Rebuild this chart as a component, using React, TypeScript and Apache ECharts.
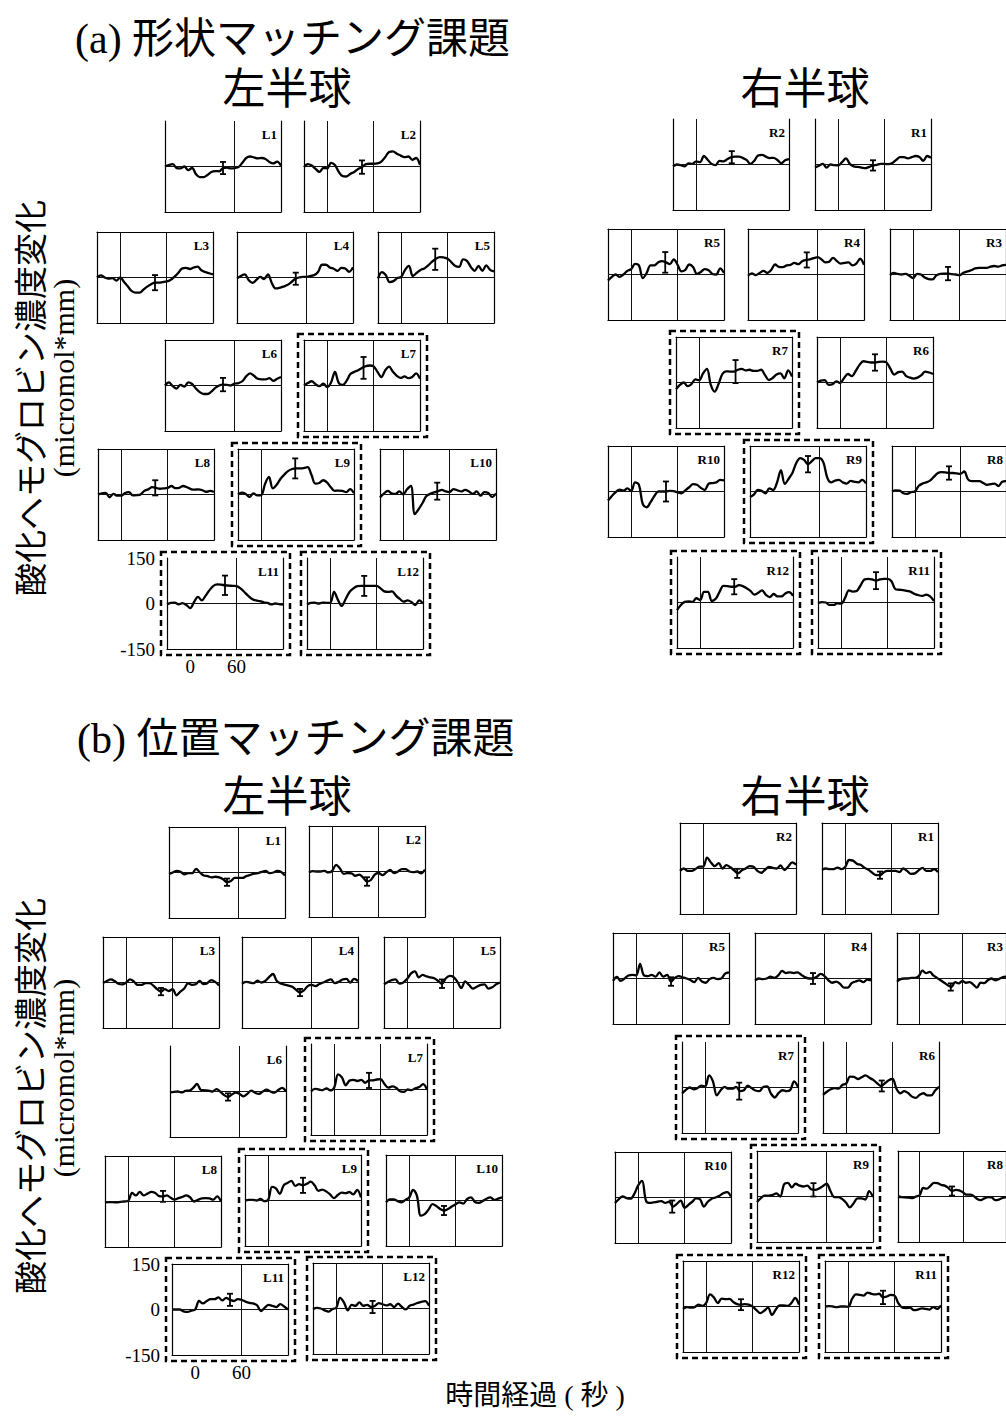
import React, { useEffect, useRef } from "react";
import * as echarts from "echarts";

// ---------- DATA ----------
const times = [-30, -25, -20, -15, -10, -5, 0, 5, 10, 15, 20, 25, 30, 35, 40, 45, 50, 55, 60, 65, 70, 75, 80, 85, 90, 95, 100, 105, 110, 115, 120];

const leftLabels = ["L1", "L2", "L3", "L4", "L5", "L6", "L7", "L8", "L9", "L10", "L11", "L12"];
const rightLabels = ["R1", "R2", "R3", "R4", "R5", "R6", "R7", "R8", "R9", "R10", "R11", "R12"];

const yTicks = [-150, 0, 150];
const xTickLabels = [0, 60];

// (a) shape matching task, left hemisphere
const shapeL1 = [0, 5, 8, -5, -6, 0, -12, -5, -25, -35, -35, -28, -18, -15, -16, -5, -4, -6, -5, -2, 12, 28, 33, 30, 27, 28, 25, 15, 10, 16, 3];
const shapeL2 = [-2, 8, 3, -8, -18, -5, -6, 12, 5, -18, -32, -33, -24, -18, -8, -2, 8, 9, 9, 10, 16, 31, 48, 50, 42, 36, 31, 33, 22, 28, 5];
const shapeL3 = [0, 7, 0, -4, -2, -10, 0, -15, -30, -45, -50, -50, -40, -30, -22, -17, -17, -15, -13, -8, 2, 15, 30, 32, 28, 33, 36, 24, 18, 14, 10];
const shapeL4 = [-3, 5, 10, -8, -18, -8, 2, -5, 10, -18, -36, -34, -30, -25, -16, -5, 0, 2, 2, 5, 8, 19, 42, 42, 33, 29, 22, 32, 30, 19, 34];
const shapeL5 = [-3, 18, 8, -15, -12, -2, 2, 25, 38, 5, 15, 25, 30, 40, 52, 62, 67, 66, 62, 50, 38, 35, 60, 55, 35, 22, 38, 22, 40, 25, 20];
const shapeL6 = [0, 10, -2, -10, 2, -4, 10, 5, -10, -22, -28, -28, -20, -8, 0, 3, 2, 0, 6, 8, 14, 30, 40, 32, 22, 20, 20, 24, 15, 22, 28];
const shapeL7 = [0, 8, 14, 4, -2, 6, -5, 10, 45, 8, 2, 15, 38, 45, 50, 58, 64, 66, 63, 45, 28, 50, 62, 45, 32, 25, 30, 24, 28, 40, 22];
const shapeL8 = [0, 4, 5, -9, 2, -4, -4, 5, 8, -3, -2, 0, 12, 17, 24, 22, 19, 20, 22, 28, 21, 22, 28, 24, 18, 16, 17, 14, 9, 12, 8];
const shapeL9 = [0, 6, 2, -8, 4, -3, -2, 35, 58, 20, 32, 52, 66, 78, 84, 86, 86, 87, 90, 65, 36, 38, 47, 40, 24, 12, 13, 12, 8, 18, 4];
const shapeL10 = [-10, 3, 12, 4, 2, 10, 0, 17, 28, -65, -48, -28, -5, 2, 7, 11, 15, 10, 8, 18, 14, 10, 15, 10, 2, 10, -4, 8, 5, -8, 4];
const shapeL11 = [-3, 2, 3, -3, 1, -5, -15, 5, 22, 10, 26, 44, 58, 63, 62, 60, 59, 58, 57, 50, 38, 25, 15, 10, 8, 4, 2, -3, 0, -2, -4];
const shapeL12 = [-3, 2, 3, 0, 3, 2, 2, 38, 12, -8, 15, 38, 50, 57, 58, 58, 58, 58, 58, 50, 40, 38, 40, 26, 15, 6, 10, 5, -5, 10, 0];

// (a) shape matching task, right hemisphere
const shapeR1 = [-10, -4, 2, -10, 0, -2, -3, 8, 20, 2, -6, -8, -10, -12, -8, -3, -1, 2, 2, 1, 5, 15, 24, 24, 20, 24, 28, 25, 12, 28, 22];
const shapeR2 = [-6, 0, -2, -6, 4, 2, 10, 8, 28, 15, 2, -2, 12, 10, 17, 24, 26, 26, 22, 15, 2, 12, 30, 32, 26, 21, 22, 15, 4, 14, 18];
const shapeR3 = [-2, 5, 2, 0, 2, -4, -12, 2, 0, -10, -15, -16, -3, 2, 3, 3, 1, 0, -2, 6, 10, 14, 20, 22, 22, 22, 26, 28, 26, 30, 32];
const shapeR4 = [-4, 4, -2, 5, 12, 5, 15, 33, 25, 24, 30, 32, 38, 34, 44, 48, 50, 54, 57, 50, 40, 42, 55, 44, 36, 38, 40, 30, 36, 52, 32];
const shapeR5 = [-20, -8, 0, -8, 0, 12, 18, 35, 30, -12, 5, 30, 30, 40, 44, 40, 34, 50, 32, 10, 15, 33, 25, 2, 8, 18, 14, 2, 0, 20, 5];
const shapeR6 = [0, 6, 8, -8, -6, 4, -2, 15, 28, 21, 38, 58, 70, 68, 66, 66, 68, 69, 66, 45, 26, 34, 36, 22, 16, 13, 16, 24, 36, 33, 28];
const shapeR7 = [-22, -8, 0, -12, -5, 10, 8, 30, 45, -8, -30, -5, 28, 37, 36, 36, 42, 45, 40, 42, 38, 38, 42, 25, 8, 15, 26, 30, 14, 40, 20];
const shapeR8 = [0, 4, 3, -6, -8, -2, 0, 18, 26, 30, 36, 48, 60, 64, 63, 61, 61, 60, 58, 66, 40, 34, 34, 34, 28, 22, 24, 26, 18, 32, 34];
const shapeR9 = [-18, -10, 5, 2, -6, 10, 5, 30, 70, 25, 42, 62, 95, 110, 104, 90, 100, 110, 110, 95, 45, 30, 36, 38, 30, 26, 35, 32, 30, 38, 27];
const shapeR10 = [-30, -15, -2, 6, 3, 10, 2, 30, 22, -42, -52, -35, -15, 0, 0, 0, 2, 1, -3, -6, 4, 14, 24, 22, 12, 5, 25, 28, 30, 38, 37];
const shapeR11 = [-2, 1, 0, -8, -8, -3, -4, 15, 40, 36, 38, 56, 76, 78, 76, 72, 76, 78, 78, 70, 44, 42, 41, 38, 35, 28, 24, 22, 26, 20, 5];
const shapeR12 = [-25, -8, 2, 4, 2, 14, 8, 35, 35, 5, 12, 35, 55, 54, 52, 52, 57, 54, 47, 38, 26, 32, 40, 25, 18, 28, 20, 20, 30, 34, 22];

// (b) position matching task, left hemisphere
const posL1 = [-5, 0, 5, 2, -6, -2, -2, 12, 0, -10, -12, -16, -14, -16, -22, -32, -28, -18, -18, -18, -12, -8, -4, -2, 2, 5, -2, 0, 5, 2, -10];
const posL2 = [-3, 1, 0, 0, 2, -3, 2, 22, 10, -8, -5, -6, -14, -10, -20, -33, -28, -10, -5, -12, -3, 5, -5, 0, 8, 8, 0, -2, 0, -6, 6];
const posL3 = [-2, 5, 10, 5, -4, -6, 0, 10, 3, -8, -8, -2, -2, -10, -22, -30, -22, -28, -22, -42, -30, -20, -3, -8, -6, 5, -5, -2, 8, 2, -10];
const posL4 = [-4, 2, 0, -2, 6, 0, 5, 18, 28, 5, -3, -7, -10, -14, -24, -33, -26, -12, -8, -12, -5, 0, 6, 10, -2, 2, 10, 12, 0, 12, 5];
const posL5 = [-6, 2, 8, 10, -4, 0, 12, 30, 37, 17, 25, 20, 17, 14, 5, -4, 14, 22, 18, 2, -18, 4, -8, -20, -14, -8, -6, -20, -16, -6, 0];
const posL6 = [-3, -1, 0, -3, 2, 3, 12, 25, 5, 4, 3, 0, 8, 0, -12, -18, -10, -4, -8, -16, -8, 3, -4, -8, 0, 6, 0, -4, 5, 12, 0];
const posL7 = [-6, 2, 0, -2, 4, -3, 6, 50, 40, 14, 30, 32, 28, 32, 22, 30, 30, 33, 34, 18, 6, 10, 6, -6, -8, 0, -2, 4, 8, 18, 0];
const posL8 = [-3, -2, -2, -3, -1, 0, 2, 28, 20, 32, 20, 26, 32, 28, 18, 17, 20, 12, 6, 11, 15, 20, 14, 0, 5, 10, 11, 10, 6, 17, 0];
const posL9 = [0, 2, 2, 0, 5, -2, 2, 45, 40, 22, 50, 58, 65, 48, 54, 50, 55, 62, 50, 32, 36, 30, 20, 8, 18, 26, 24, 28, 20, 35, 10];
const posL10 = [-6, 4, 4, -2, -6, 2, 10, 35, 15, -50, -45, -30, -12, -18, -28, -33, -28, -20, -12, -6, -10, 5, 10, -5, -8, -2, 6, 10, 2, 6, 10];
const posL11 = [0, 0, 0, -6, -8, -4, 0, 28, 20, 28, 34, 34, 40, 30, 38, 32, 28, 34, 32, 26, 22, 20, 14, -5, 6, 15, 12, 8, 18, 10, 0];
const posL12 = [-2, 2, 0, -6, -10, -2, 2, 35, 20, -6, 12, 9, 20, 9, 12, 5, 8, 18, 14, 10, 14, 5, 16, 5, -3, 9, 13, 18, 22, 24, 9];

// (b) position matching task, right hemisphere
const posR1 = [-4, 0, -2, -2, 3, -2, 5, 28, 26, 16, 12, 2, -4, -14, -22, -22, -12, -8, -8, -8, -12, 0, -8, -18, -16, -6, 2, -8, -8, -2, -12];
const posR2 = [-8, 0, -8, -8, -2, 6, 6, 36, 20, 8, 18, 0, 11, 4, -6, -16, -6, 0, 8, 6, -8, -14, -4, 5, 2, 0, 10, -5, 6, 20, 13];
const posR3 = [-10, -2, 0, 0, 2, 2, 8, 26, 18, 22, 10, 2, -6, -14, -22, -28, -12, -16, -8, -14, -12, -20, -30, -14, -15, -6, 0, -6, -2, 4, 6];
const posR4 = [-6, 0, -2, 0, 6, 2, 10, 25, 18, 20, 18, 20, 12, 4, 0, 0, 6, 15, 8, -6, -14, -10, -18, -30, -30, -15, -10, -6, -12, -4, -6];
const posR5 = [-8, 5, -8, 0, 10, 12, 10, 48, 10, 8, 12, 6, 20, 6, 12, -10, 2, 8, 4, 0, -5, -12, 2, -10, -14, -2, 2, -2, 0, 16, 20];
const posR6 = [-24, -14, -6, -2, -4, 8, 13, 36, 35, 28, 34, 40, 32, 25, 14, 5, 14, 24, 28, -4, -19, -12, -18, -30, -34, -24, -19, -26, -26, -10, 2];
const posR7 = [-20, -8, 0, -6, -2, 6, 4, 40, 20, -26, -9, 2, -4, -4, 2, -12, -9, 6, -2, -10, -12, 2, 4, -20, -33, -18, -9, -12, -8, 20, 2];
const posR8 = [0, -2, -3, -4, -5, 0, 4, 28, 26, 35, 45, 44, 38, 36, 28, 18, 22, 20, 14, 6, 6, 2, -8, -12, -6, -2, -3, -12, -10, -5, -2];
const posR9 = [-18, -5, 3, 3, 5, 10, 0, 40, 45, 30, 42, 36, 33, 36, 24, 22, 26, 34, 42, 18, -2, -2, -8, -20, -36, -22, -6, -6, -10, 18, -2];
const posR10 = [-18, -5, 4, -2, -4, 12, 40, 55, -10, -18, -16, -14, -12, -18, -14, -30, -21, -10, -34, -24, -14, -3, -6, -30, -14, -4, 0, 6, 14, 18, 3];
const posR11 = [0, 1, 0, -2, 0, 0, -1, 25, 40, 38, 36, 46, 42, 40, 42, 30, 33, 38, 36, 10, -4, -5, -4, -12, -10, -6, -8, -10, -2, -8, 4];
const posR12 = [-8, -2, -4, -2, 6, 2, 12, 40, 30, 11, 26, 24, 25, 15, 8, 6, 8, 6, 0, -12, -22, -14, -4, -28, -10, 4, 4, 2, 11, 28, 6];

// error bars: [time, centre, half-width], in label order 1..12
const shapeLeftErr = [[45, -5, 20], [45, -2, 22], [45, -17, 25], [46, -4, 20], [44, 60, 35], [45, 3, 22], [47, 58, 36], [44, 22, 25], [44, 86, 33], [44, 11, 28], [45, 60, 32], [44, 58, 33]];
const shapeRightErr = [[45, -3, 17], [46, 24, 20], [45, 3, 22], [46, 48, 25], [44, 40, 34], [45, 66, 27], [47, 36, 38], [45, 61, 22], [45, 90, 27], [45, 0, 33], [45, 72, 28], [44, 52, 25]];
const posLeftErr = [[45, -32, 12], [45, -33, 14], [45, -30, 12], [45, -33, 12], [45, -4, 14], [45, -18, 12], [45, 30, 25], [45, 17, 18], [45, 50, 25], [45, -33, 15], [45, 32, 20], [47, 5, 20]];
const posRightErr = [[45, -22, 12], [44, -16, 15], [44, -28, 12], [45, 0, 18], [45, -10, 14], [46, 5, 18], [44, -12, 28], [45, 18, 15], [43, 22, 22], [44, -30, 20], [45, 30, 22], [45, 6, 18]];

// reference lines at stimulus onset (0 s) and 60 s that are visible in each panel
const leftVLines = [[60], [0, 60], [0, 60], [60], [0, 60], [60], [0, 60], [0, 60], [0], [0, 60], [60], [0, 60]];
const shapeRightVLines = [[0, 60], [0], [0, 60], [60], [0, 60], [0, 60], [0], [0, 60], [60], [0, 60], [0, 60], [0]];
const posRightVLines = [[0, 60], [0], [0, 60], [60], [0, 60], [0, 60], [0], [0, 60], [60], [0, 60], [0, 60], [0, 60]];

// ---------- LAYOUT ----------
const PW = 116;
const PH = 91;
const shapeLeftPos = [[165, 121], [304, 121], [97, 232], [237, 232], [378, 232], [165, 340], [304, 340], [98, 449], [238, 449], [380, 449], [167, 558], [307, 558]];
const shapeRightPos = [[815, 119], [673, 119], [890, 229], [748, 229], [608, 229], [817, 337], [676, 337], [892, 446], [750, 446], [608, 446], [818, 557], [677, 557]];
const posLeftPos = [[169, 827], [309, 826], [103, 937], [242, 937], [384, 937], [170, 1046], [311, 1044], [105, 1156], [245, 1155], [386, 1155], [172, 1264], [313, 1263]];
const posRightPos = [[822, 823], [680, 823], [897, 933], [755, 933], [613, 933], [823, 1042], [682, 1042], [898, 1151], [757, 1151], [615, 1152], [825, 1261], [683, 1261]];
const shapeLeftTop = [false, false, true, true, true, true, true, true, true, true, false, false];
const shapeRightTop = [false, false, true, true, true, true, true, true, true, true, false, false];
const posLeftTop = [true, true, true, true, true, false, false, true, true, true, true, true];
const posRightTop = [true, true, true, true, true, false, false, true, true, true, true, true];
const dashedIdx = [6, 8, 10, 11];

const SERIF = '"Liberation Serif", "Times New Roman", serif';
const JP = '"Liberation Serif", "Noto Sans CJK JP", sans-serif';

type Group = {
  labels: string[];
  data: number[][];
  errs: number[][];
  pos: number[][];
  vlines: number[][];
  tops: boolean[];
  ticksAt: number;
};

const groups: Group[] = [
  {
    labels: leftLabels,
    data: [shapeL1, shapeL2, shapeL3, shapeL4, shapeL5, shapeL6, shapeL7, shapeL8, shapeL9, shapeL10, shapeL11, shapeL12],
    errs: shapeLeftErr, pos: shapeLeftPos, vlines: leftVLines, tops: shapeLeftTop, ticksAt: 10,
  },
  {
    labels: rightLabels,
    data: [shapeR1, shapeR2, shapeR3, shapeR4, shapeR5, shapeR6, shapeR7, shapeR8, shapeR9, shapeR10, shapeR11, shapeR12],
    errs: shapeRightErr, pos: shapeRightPos, vlines: shapeRightVLines, tops: shapeRightTop, ticksAt: -1,
  },
  {
    labels: leftLabels,
    data: [posL1, posL2, posL3, posL4, posL5, posL6, posL7, posL8, posL9, posL10, posL11, posL12],
    errs: posLeftErr, pos: posLeftPos, vlines: leftVLines, tops: posLeftTop, ticksAt: 10,
  },
  {
    labels: rightLabels,
    data: [posR1, posR2, posR3, posR4, posR5, posR6, posR7, posR8, posR9, posR10, posR11, posR12],
    errs: posRightErr, pos: posRightPos, vlines: posRightVLines, tops: posRightTop, ticksAt: -1,
  },
];

function errRender(params: any, api: any) {
  const t = api.value(0);
  const v = api.value(1);
  const e = api.value(2);
  const hi = api.coord([t, v + e]);
  const lo = api.coord([t, v - e]);
  const c = 3;
  const st = { stroke: "#000", lineWidth: 1.8 };
  return {
    type: "group",
    children: [
      { type: "line", shape: { x1: hi[0], y1: hi[1], x2: lo[0], y2: lo[1] }, style: st },
      { type: "line", shape: { x1: hi[0] - c, y1: hi[1], x2: hi[0] + c, y2: hi[1] }, style: st },
      { type: "line", shape: { x1: lo[0] - c, y1: lo[1], x2: lo[0] + c, y2: lo[1] }, style: st },
    ],
  };
}

function buildOption() {
  const grid: any[] = [];
  const xAxis: any[] = [];
  const yAxis: any[] = [];
  const series: any[] = [];
  const graphic: any[] = [];
  const axisLineStyle = { color: "#000", width: 1.2 };

  let gi = 0;
  groups.forEach((g) => {
    g.labels.forEach((label, i) => {
      const [px, py] = g.pos[i];
      const withTicks = i === g.ticksAt;
      grid.push({ left: px, top: py, width: PW, height: PH });
      xAxis.push({
        type: "value", gridIndex: gi, position: "bottom", min: -30, max: 120, interval: 30,
        axisLine: { show: true, onZero: false, lineStyle: axisLineStyle },
        axisTick: { show: false }, splitLine: { show: false },
        axisLabel: withTicks
          ? { show: true, color: "#000", fontFamily: SERIF, fontSize: 19, margin: 8,
              formatter: (val: number) => (xTickLabels.indexOf(val) >= 0 ? String(val) : "") }
          : { show: false },
      });
      xAxis.push({
        type: "value", gridIndex: gi, position: "top", min: -30, max: 120, show: g.tops[i],
        axisLine: { show: true, onZero: false, lineStyle: axisLineStyle },
        axisTick: { show: false }, splitLine: { show: false }, axisLabel: { show: false },
      });
      yAxis.push({
        type: "value", gridIndex: gi, position: "left", min: yTicks[0], max: yTicks[2], interval: 150,
        axisLine: { show: true, onZero: false, lineStyle: axisLineStyle },
        axisTick: { show: false }, splitLine: { show: false },
        axisLabel: withTicks
          ? { show: true, color: "#000", fontFamily: SERIF, fontSize: 19, margin: 12 }
          : { show: false },
      });
      yAxis.push({
        type: "value", gridIndex: gi, position: "right", min: -150, max: 150,
        axisLine: { show: true, onZero: false, lineStyle: axisLineStyle },
        axisTick: { show: false }, splitLine: { show: false }, axisLabel: { show: false },
      });
      series.push({
        type: "line", name: label, xAxisIndex: 2 * gi, yAxisIndex: 2 * gi,
        data: times.map((t, k) => [t, g.data[i][k]]),
        showSymbol: false, symbol: "none", smooth: 0.35,
        lineStyle: { color: "#000", width: 2.3 },
        silent: true,
        markLine: {
          silent: true, symbol: ["none", "none"], label: { show: false },
          lineStyle: { color: "#111", width: 1, type: "solid" },
          emphasis: { disabled: true },
          data: [{ yAxis: 0 }, ...g.vlines[i].map((v) => ({ xAxis: v }))],
        },
      });
      series.push({
        type: "custom", xAxisIndex: 2 * gi, yAxisIndex: 2 * gi,
        data: [g.errs[i]], encode: { x: 0, y: 1 }, renderItem: errRender, silent: true, z: 3,
      });
      graphic.push({
        type: "text", x: Math.min(px + PW - 4, 1003), y: py + 13,
        style: { text: label, fill: "#000", fontFamily: SERIF, fontWeight: "bold", fontSize: 13, align: "right", verticalAlign: "middle" },
      });
      if (dashedIdx.indexOf(i) >= 0) {
        graphic.push({
          type: "rect", shape: { x: px - 6, y: py - 6, width: PW + 13, height: PH + 12 },
          style: { fill: "transparent", stroke: "#000", lineWidth: 2.5, lineDash: [6, 4] },
        });
      }
      gi++;
    });
  });

  const texts = [
    { text: "(a) 形状マッチング課題", x: 75, y: 39, size: 42, align: "left" },
    { text: "(b) 位置マッチング課題", x: 77, y: 739, size: 42, align: "left" },
    { text: "左半球", x: 287, y: 89, size: 43, align: "center" },
    { text: "右半球", x: 805, y: 89, size: 43, align: "center" },
    { text: "左半球", x: 287, y: 797, size: 43, align: "center" },
    { text: "右半球", x: 805, y: 797, size: 43, align: "center" },
    { text: "時間経過 ( 秒 )", x: 535, y: 1395, size: 28, align: "center" },
  ];
  texts.forEach((t) => {
    graphic.push({
      type: "text", x: t.x, y: t.y,
      style: { text: t.text, fill: "#000", fontFamily: JP, fontSize: t.size, align: t.align, verticalAlign: "middle" },
    });
  });
  [[398, 378], [1096, 1078]].forEach(([cy1, cy2]) => {
    graphic.push({
      type: "text", x: 32, y: cy1, rotation: Math.PI / 2,
      style: { text: "酸化ヘモグロビン濃度変化", fill: "#000", fontFamily: JP, fontSize: 33, align: "center", verticalAlign: "middle" },
    });
    graphic.push({
      type: "text", x: 63, y: cy2, rotation: Math.PI / 2,
      style: { text: "(micromol*mm)", fill: "#000", fontFamily: SERIF, fontSize: 30, align: "center", verticalAlign: "middle" },
    });
  });

  return {
    animation: false,
    backgroundColor: "#fff",
    grid, xAxis, yAxis, series, graphic,
  };
}

export default function App() {
  const ref = useRef<HTMLDivElement>(null);
  useEffect(() => {
    const chart = echarts.init(ref.current as HTMLDivElement, null, { renderer: "svg" });
    chart.setOption(buildOption() as any);
    return () => chart.dispose();
  }, []);
  return (
    <div
      ref={ref}
      style={{ position: "absolute", left: 0, top: 0, width: 1006, height: 1417, background: "#fff" }}
    />
  );
}
